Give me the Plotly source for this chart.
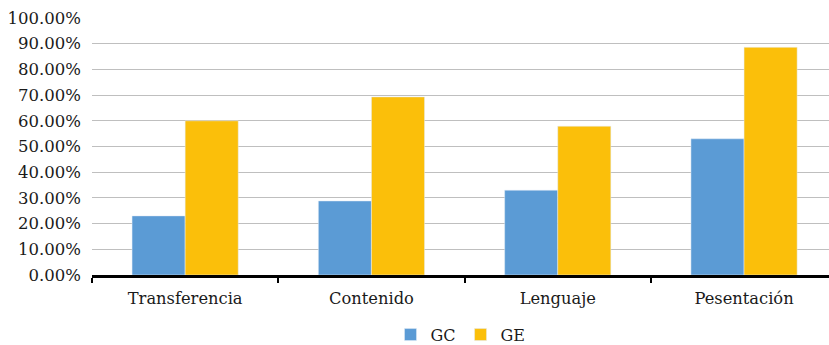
import plotly.graph_objects as go

categories = ["Transferencia", "Contenido", "Lenguaje", "Pesentación"]
gc_values = [0.23, 0.288, 0.33, 0.53]
ge_values = [0.60, 0.693, 0.579, 0.886]
y_ticks = [i / 10 for i in range(11)]

FONT = "'DejaVu Serif'"

fig = go.Figure()
fig.add_trace(go.Bar(name="GC", x=categories, y=gc_values, marker_color="#5B9BD5"))
fig.add_trace(go.Bar(name="GE", x=categories, y=ge_values, marker_color="#FBBF0A"))

fig.update_layout(
    width=829,
    height=345,
    margin=dict(l=92, r=0, t=18, b=70, autoexpand=False),
    paper_bgcolor="white",
    plot_bgcolor="white",
    barmode="group",
    bargap=0.43,
    bargroupgap=0,
    font=dict(family=FONT, size=17, color="#1a1a1a"),
    showlegend=True,
    legend=dict(
        orientation="h",
        x=0.5,
        xanchor="center",
        yref="container",
        y=0.03,
        yanchor="middle",
        font=dict(family=FONT, size=16),
        itemwidth=30,
        traceorder="normal",
    ),
)

fig.update_xaxes(
    range=[-0.5, 3.456],
    automargin=False,
    showline=True,
    linecolor="black",
    linewidth=2.5,
    ticks="outside",
    tickson="boundaries",
    ticklen=5,
    tickwidth=2,
    tickcolor="black",
    showgrid=False,
    ticklabelstandoff=7,
    tickfont=dict(family=FONT, size=16.3),
)

fig.update_yaxes(
    range=[0, 1],
    automargin=False,
    tickvals=y_ticks,
    tickformat=".2%",
    showgrid=True,
    gridcolor="#BFBFBF",
    gridwidth=1.2,
    showline=False,
    zeroline=False,
    ticks="",
    ticklabelstandoff=10,
    tickfont=dict(family=FONT, size=16.5),
)

fig.write_html("out.html")
